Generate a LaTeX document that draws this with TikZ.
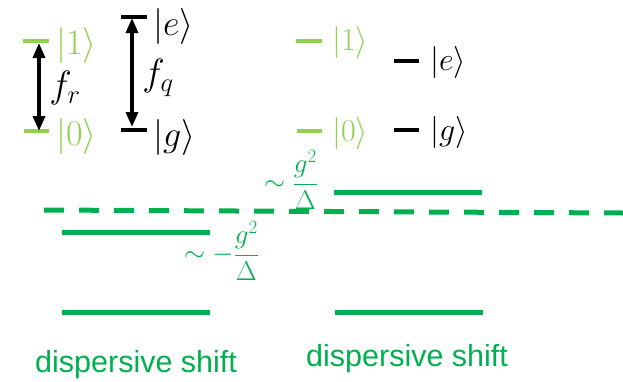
\RequirePackage{fix-cm}
\documentclass[tikz,border=0pt]{standalone}
\usepackage{amsmath}
\usepackage{fontspec}
\setmainfont{Liberation Sans}
\usetikzlibrary{arrows.meta}
\definecolor{dgreen}{HTML}{00B050}
\definecolor{lgreen}{HTML}{92D050}
\tikzset{
  lvl/.style={line width=4pt},
  shiftlvl/.style={line width=5pt, dgreen},
  ket/.style={inner sep=0pt, anchor=west, font=\fontsize{36}{42}\selectfont},
  ketsmall/.style={inner sep=0pt, anchor=west, font=\fontsize{32}{38}\selectfont},
  freq/.style={inner sep=0pt, font=\fontsize{38}{44}\selectfont},
  gap/.style={line width=3.5pt, {Triangle[length=15pt,width=12pt]}-{Triangle[length=15pt,width=12pt]}},
  shiftlbl/.style={inner sep=0pt, anchor=west, text=dgreen, font=\fontsize{27}{32}\selectfont},
  caption/.style={inner sep=0pt, anchor=base west, text=dgreen, font=\fontsize{30.5}{36}\selectfont}
}
\begin{document}
\begin{tikzpicture}[x=1pt,y=-1pt]
\useasboundingbox (0,0) rectangle (623,381);
% left: bare levels
\draw[lvl, lgreen] (23,41) -- (49,41);
\draw[lvl, lgreen] (24,131) -- (49,131);
\draw[lvl, black] (121,17) -- (147,17);
\draw[lvl, black] (121,130) -- (147,130);
\node[ket, text=lgreen] (k1) at (56,45) {$|1\rangle$};
\node[ket, text=lgreen] (k0) at (56,136) {$|0\rangle$};
\node[ket] (ke) at (153,26) {$|e\rangle$};
\node[ket] (kg) at (153,137) {$|g\rangle$};
\coordinate (r1) at (39,43);
\coordinate (r0) at (39,131);
\coordinate (qe) at (132,18);
\coordinate (qg) at (132,127);
\draw[gap] (r1) -- (r0);
\draw[gap] (qe) -- (qg);
\node[freq] (fr) at (65,88) {$f_r$};
\node[freq] (fq) at (158,78) {$f_q$};
% right: detuned levels
\draw[lvl, lgreen] (296,41) -- (322,41);
\draw[lvl, lgreen] (297,131) -- (322,131);
\draw[lvl, black] (394,61) -- (419,61);
\draw[lvl, black] (394,130) -- (419,130);
\node[ketsmall, text=lgreen] (k1b) at (332,42) {$|1\rangle$};
\node[ketsmall, text=lgreen] (k0b) at (332,133) {$|0\rangle$};
\node[ketsmall] (keb) at (430,62) {$|e\rangle$};
\node[ketsmall] (kgb) at (430,132) {$|g\rangle$};
% dispersive shift
\draw[line width=5pt, dgreen, dash pattern=on 20pt off 15pt] (44,210) -- (623,213);
\draw[shiftlvl] (62,232) -- (210,232);
\draw[shiftlvl] (62,312) -- (210,312);
\draw[shiftlvl] (334,192) -- (482,192);
\draw[shiftlvl] (335,312) -- (483,312);
\node[shiftlbl] (sm) at (184,251) {$\sim-\dfrac{g^2}{\Delta}$};
\node[shiftlbl] (sp) at (264,180) {$\sim\dfrac{g^2}{\Delta}$};
\node[caption] (c1) at (35,372) {dispersive shift};
\node[caption] (c2) at (306,366) {dispersive shift};
\end{tikzpicture}
\end{document}
